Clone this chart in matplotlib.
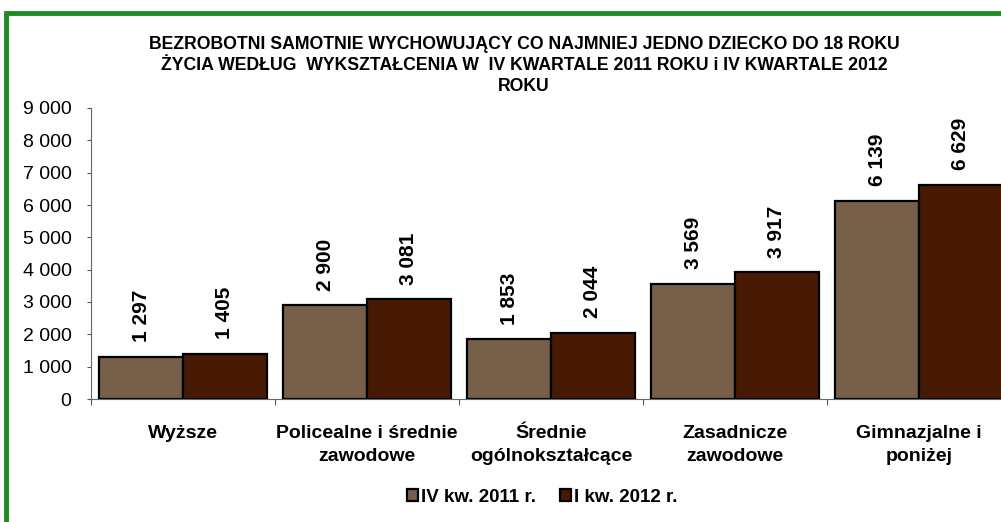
import matplotlib
matplotlib.use("Agg")
import matplotlib.pyplot as plt
from matplotlib.patches import Rectangle
import numpy as np

categories = ["Wyższe", "Policealne i średnie\nzawodowe", "Średnie\nogólnokształcące",
              "Zasadnicze\nzawodowe", "Gimnazjalne i\nponiżej"]
series_names = ["IV kw. 2011 r.", "I kw. 2012 r."]
values_2011 = [1297, 2900, 1853, 3569, 6139]
values_2012 = [1405, 3081, 2044, 3917, 6629]
yticks = [0, 1000, 2000, 3000, 4000, 5000, 6000, 7000, 8000, 9000]
title = ("BEZROBOTNI SAMOTNIE WYCHOWUJĄCY CO NAJMNIEJ JEDNO DZIECKO DO 18 ROKU\n"
         "ŻYCIA WEDŁUG  WYKSZTAŁCENIA W  IV KWARTALE 2011 ROKU i IV KWARTALE 2012\n"
         "ROKU")

def fmt(v):
    return f"{v:,}".replace(",", " ")

plt.rcParams['font.family'] = ['Liberation Sans', 'DejaVu Sans']

fig = plt.figure(figsize=(10.01, 5.22), dpi=100)
fig.patch.set_facecolor("white")

# green frame
fig.patches.append(Rectangle((6/1001, -0.1), 1.2, 1 - 13/522 + 0.1, transform=fig.transFigure,
                             fill=False, edgecolor="#1F8A1F", linewidth=3.5, zorder=10))

ax = fig.add_axes([91/1001, 1 - 399/522, 920/1001, (399 - 108)/522])
x = np.arange(len(categories))
w = 0.454
c1, c2 = "#76604A", "#481A04"
b1 = ax.bar(x - w/2, values_2011, w, color=c1, edgecolor="black", linewidth=1.6, label=series_names[0])
b2 = ax.bar(x + w/2, values_2012, w, color=c2, edgecolor="black", linewidth=1.6, label=series_names[1])

for bars, vals in ((b1, values_2011), (b2, values_2012)):
    for rect, v in zip(bars, vals):
        ax.annotate(fmt(v), (rect.get_x() + rect.get_width()/2, v), xytext=(0, 10.5),
                    textcoords="offset points", rotation=90, ha="center", va="bottom",
                    fontsize=15, fontweight="bold")

ax.set_xlim(-0.5, len(categories) - 0.5)
ax.set_ylim(0, 9000)
ax.set_yticks(yticks)
ax.set_yticklabels([fmt(t) for t in yticks], fontsize=14)
ax.set_xticks(np.arange(len(categories) + 1) - 0.5)
ax.set_xticklabels([])
ax.set_xticks(x, minor=True)
ax.set_xticklabels(categories, minor=True, fontsize=14, fontweight="bold", linespacing=1.42)
ax.tick_params(axis="x", which="minor", length=0, pad=19)
ax.tick_params(axis="x", which="major", length=4, direction="out", color="#555555")
ax.tick_params(axis="y", length=3, direction="out", color="#555555", pad=11)
for s in ("top", "right"):
    ax.spines[s].set_visible(False)
ax.spines["left"].set_color("#666666")
ax.spines["bottom"].set_color("#666666")

fig.text(524/1001, 1 - 65.5/522, title, ha="center", va="center", fontsize=12.7,
         fontweight="bold", linespacing=1.3)

leg = fig.legend(handles=[b1, b2], labels=series_names, loc="center", bbox_to_anchor=(542/1001, 1 - 497/522),
                 ncol=2, frameon=False, handlelength=0.6, handleheight=0.6,
                 handletextpad=0.15, columnspacing=1.3, prop={"weight": "bold", "size": 13.5})
for h in leg.legend_handles:
    h.set_linewidth(1.6)

fig.savefig("out.png", dpi=100)
